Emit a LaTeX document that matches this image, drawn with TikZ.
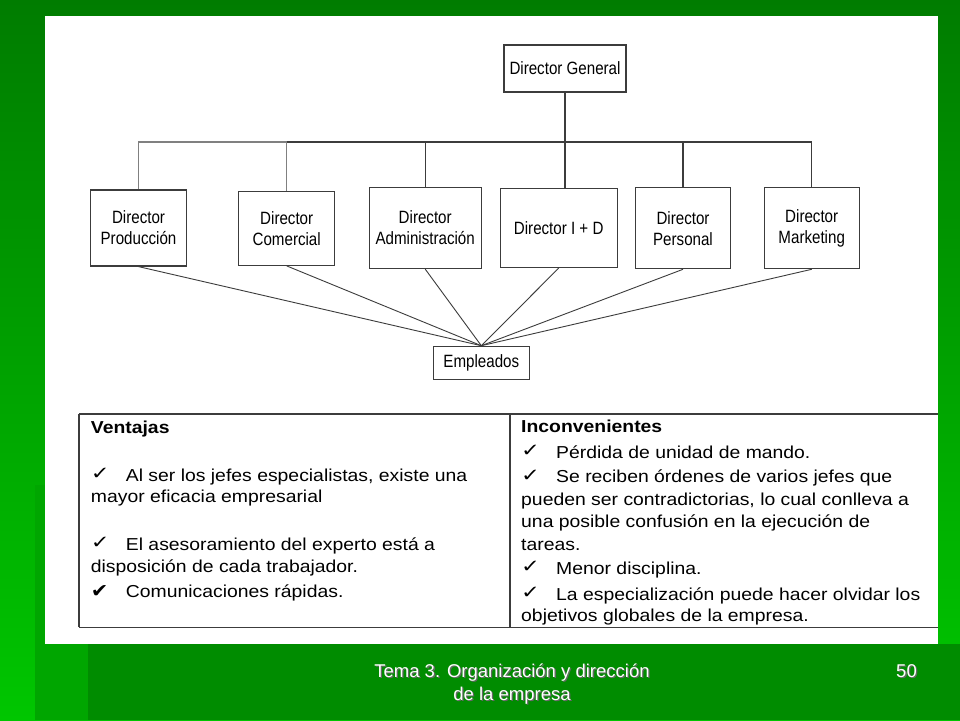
\documentclass[tikz,border=0pt]{standalone}
\usepackage{fontspec}
\usepackage{graphicx}
\setmainfont{Liberation Sans}
\newfontfamily\chartfont[FakeStretch=0.85]{Liberation Sans}
\newfontfamily\tablafont[FakeStretch=1.12]{Liberation Sans}
\newfontfamily\simbolos{DejaVu Sans}
\definecolor{verdeosc}{RGB}{0,124,0}
\definecolor{verdecla}{RGB}{0,198,0}
\definecolor{verdebanda}{RGB}{0,166,0}
\definecolor{verdepie}{RGB}{0,140,0}
\definecolor{trazo}{RGB}{60,60,60}
\tikzstyle{cargo}=[draw=trazo,line width=1.2pt,fill=white,align=center,inner sep=0pt,font=\chartfont\fontsize{17.8}{21}\selectfont]
\tikzstyle{linea}=[draw=trazo,line width=1.1pt]
\tikzstyle{renglon}=[anchor=base west,inner sep=0pt,font=\tablafont\fontsize{17.3}{22}\selectfont]
\tikzstyle{pie}=[anchor=base,inner sep=0pt,text=white,font=\fontsize{18.5}{23}\selectfont]
\newcommand{\chk}{\makebox[35pt][l]{\raisebox{1.5pt}{\scalebox{1.25}[1]{\simbolos\fontsize{18}{18}\selectfont ✓}}}}
\newcommand{\chkb}{\makebox[35pt][l]{\scalebox{1.1}[1]{\simbolos\fontsize{19}{19}\selectfont ✔}}}
\newcommand{\sombreado}[1]{\rlap{\raisebox{-1.3pt}{\kern1.3pt\textcolor{black!60}{#1}}}#1}

\begin{document}
\begin{tikzpicture}[x=1pt,y=-1pt]
\useasboundingbox (0,0) rectangle (960,720);
% fondo verde
\shade[top color=verdeosc,bottom color=verdecla] (0,0) rectangle (960,720);
\fill[verdebanda] (35,485) rectangle (88,720);
\fill[verdepie] (88,644) rectangle (960,720);
\fill[white] (45,16) rectangle (938,644);

% organigrama
\node[cargo,minimum width=122pt,minimum height=47pt] at (565,68.5) (dg) {Director General};
\node[cargo,minimum width=96pt,minimum height=76pt] at (138.5,228) (prod) {Director\\Producción};
\node[cargo,minimum width=96pt,minimum height=74pt] at (286.7,228.3) (com) {Director\\Comercial};
\node[cargo,minimum width=112pt,minimum height=81pt] at (425.2,228) (adm) {Director\\Administración};
\node[cargo,minimum width=117pt,minimum height=79pt] at (558.7,228) (id) {Director I + D};
\node[cargo,minimum width=95pt,minimum height=81pt] at (683,228.2) (per) {Director\\Personal};
\node[cargo,minimum width=95pt,minimum height=81pt] at (811.7,228.2) (mkt) {Director\\Marketing};
\node[cargo,minimum width=96pt,minimum height=33pt] at (481.3,362.8) (emp) {Empleados};
\coordinate (bus) at (565,142);
\draw[linea] (dg.south) -- (dg.south |- id.north);
\draw[linea,draw=gray] (prod.north) |- (com.north |- bus) -- (com.north);
\draw[linea] (com.north |- bus) -- (mkt.north |- bus);
\foreach \n in {adm,per,mkt}
  \draw[linea] (\n.north) -- (\n.north |- bus);
\foreach \n in {prod,com,adm,id,per,mkt}
  \draw[draw=trazo,line width=0.9pt] (\n.south) -- (emp.north);

% tabla
\draw[linea,line width=1.3pt] (79,414) -- (938,414);
\draw[linea,line width=1.3pt] (79,627.3) -- (938,627.3);
\draw[linea,line width=1.3pt] (79,414) -- (79,627.3);
\draw[linea,line width=1.3pt] (510,414) -- (510,627.3);
\node[renglon] at (90.7,433) (ven0) {\bfseries Ventajas};
\node[renglon] at (90.7,481) (ven1) {\chk Al ser los jefes especialistas, existe una};
\node[renglon] at (90.7,502.3) (ven2) {mayor eficacia empresarial};
\node[renglon] at (90.7,550) (ven3) {\chk El asesoramiento del experto está a};
\node[renglon] at (90.7,572.7) (ven4) {disposición de cada trabajador.};
\node[renglon] at (90.7,597.3) (ven5) {\chkb Comunicaciones rápidas.};
\node[renglon] at (521,432.7) (inc0) {\bfseries Inconvenientes};
\node[renglon] at (521,458.3) (inc1) {\chk Pérdida de unidad de mando.};
\node[renglon] at (521,482.7) (inc2) {\chk Se reciben órdenes de varios jefes que};
\node[renglon] at (521,505.3) (inc3) {pueden ser contradictorias, lo cual conlleva a};
\node[renglon] at (521,527.7) (inc4) {una posible confusión en la ejecución de};
\node[renglon] at (521,550) (inc5) {tareas.};
\node[renglon] at (521,574.3) (inc6) {\chk Menor disciplina.};
\node[renglon] at (521,600) (inc7) {\chk La especialización puede hacer olvidar los};
\node[renglon] at (521,621.7) (inc8) {objetivos globales de la empresa.};

% pie de pagina
\node[pie] at (512,677) (pie1) {\sombreado{Tema 3. Organización y dirección}};
\node[pie] at (512,700) (pie2) {\sombreado{de la empresa}};
\node[pie,anchor=base east] at (917,677) (num) {\sombreado{50}};
\end{tikzpicture}
\end{document}
